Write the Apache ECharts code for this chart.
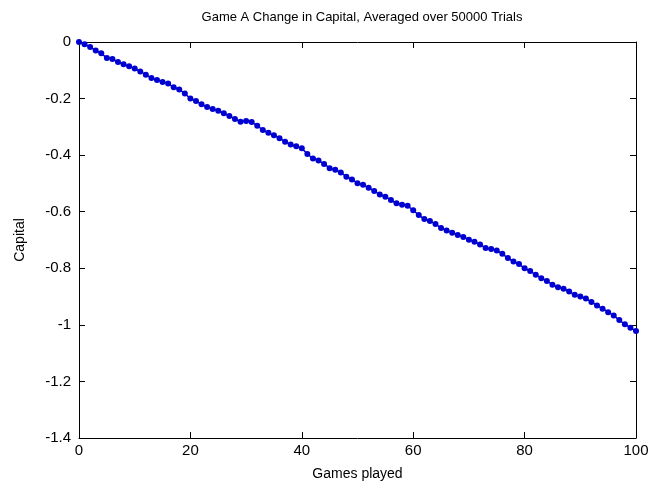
<!DOCTYPE html>
<html>
<head>
<meta charset="utf-8">
<script src="https://cdn.jsdelivr.net/npm/echarts@6/dist/echarts.min.js"></script>
<style>html,body{margin:0;padding:0;background:#fff}#c{width:658px;height:487px}</style>
</head>
<body>
<div id="c"></div>
<script>
const titleText = 'Game A Change in Capital, Averaged over 50000 Trials';
const xLabel = 'Games played';
const yLabel = 'Capital';
const games = Array.from({length: 101}, (_, i) => i);
const capital = [
  0, -0.008, -0.018, -0.03, -0.04, -0.057, -0.06, -0.071, -0.079, -0.086,
  -0.094, -0.104, -0.116, -0.127, -0.134, -0.141, -0.147, -0.16, -0.168, -0.182,
  -0.2, -0.209, -0.22, -0.23, -0.237, -0.243, -0.252, -0.262, -0.272, -0.282,
  -0.279, -0.283, -0.296, -0.311, -0.321, -0.33, -0.34, -0.353, -0.362, -0.369,
  -0.376, -0.396, -0.412, -0.419, -0.431, -0.446, -0.452, -0.461, -0.476, -0.486,
  -0.499, -0.505, -0.515, -0.527, -0.539, -0.547, -0.559, -0.57, -0.575, -0.579,
  -0.595, -0.612, -0.626, -0.633, -0.643, -0.658, -0.666, -0.674, -0.682, -0.689,
  -0.699, -0.706, -0.716, -0.728, -0.732, -0.737, -0.749, -0.764, -0.776, -0.785,
  -0.8, -0.81, -0.823, -0.835, -0.845, -0.858, -0.867, -0.872, -0.882, -0.894,
  -0.9, -0.907, -0.919, -0.932, -0.943, -0.955, -0.967, -0.983, -0.998, -1.01,
  -1.022
];
const xTicks = [0, 20, 40, 60, 80, 100];
const yTicks = [-1.4, -1.2, -1, -0.8, -0.6, -0.4, -0.2, 0];

const font = 'Liberation Sans, Arial, sans-serif';
const mkLine = () => ({show: true, onZero: false, lineStyle: {color: '#000', width: 1}});
const mkTick = () => ({show: true, inside: true, length: 6, lineStyle: {color: '#000', width: 1}});
const fmtY = v => (Math.abs(v) < 1e-9 ? '0' : String(Math.round(v * 10) / 10));

const chart = echarts.init(document.getElementById('c'), null, {renderer: 'canvas'});
chart.setOption({
  animation: false,
  backgroundColor: '#fff',
  title: {
    text: titleText, left: 357, top: 6, textAlign: 'center',
    textStyle: {fontFamily: font, fontSize: 13, fontWeight: 'normal', color: '#000'}
  },
  grid: {left: 79, right: 22, top: 42, bottom: 49},
  xAxis: [{
    type: 'value', min: 0, max: 100, interval: 20, position: 'bottom',
    name: xLabel, nameLocation: 'middle', nameGap: 29,
    nameTextStyle: {fontFamily: font, fontSize: 14, color: '#000'},
    axisLine: mkLine(), axisTick: mkTick(), splitLine: {show: false},
    axisLabel: {fontFamily: font, fontSize: 15, color: '#000', margin: 5}
  }, {
    type: 'value', min: 0, max: 100, interval: 20, position: 'top',
    axisLine: mkLine(), axisTick: mkTick(), splitLine: {show: false},
    axisLabel: {show: false}
  }],
  yAxis: [{
    type: 'value', min: -1.4, max: 0, interval: 0.2, position: 'left',
    name: yLabel, nameLocation: 'middle', nameGap: 52, nameRotate: 90,
    nameTextStyle: {fontFamily: font, fontSize: 14, color: '#000'},
    axisLine: mkLine(), axisTick: mkTick(), splitLine: {show: false},
    axisLabel: {fontFamily: font, fontSize: 15, color: '#000', margin: 8, formatter: fmtY}
  }, {
    type: 'value', min: -1.4, max: 0, interval: 0.2, position: 'right',
    axisLine: mkLine(), axisTick: mkTick(), splitLine: {show: false},
    axisLabel: {show: false}
  }],
  series: [{
    type: 'line',
    data: games.map((g, i) => [g, capital[i]]),
    symbol: 'circle', symbolSize: 6,
    itemStyle: {color: '#0000D0'},
    lineStyle: {color: '#0000D0', width: 1.5}
  }]
});
</script>
</body>
</html>
